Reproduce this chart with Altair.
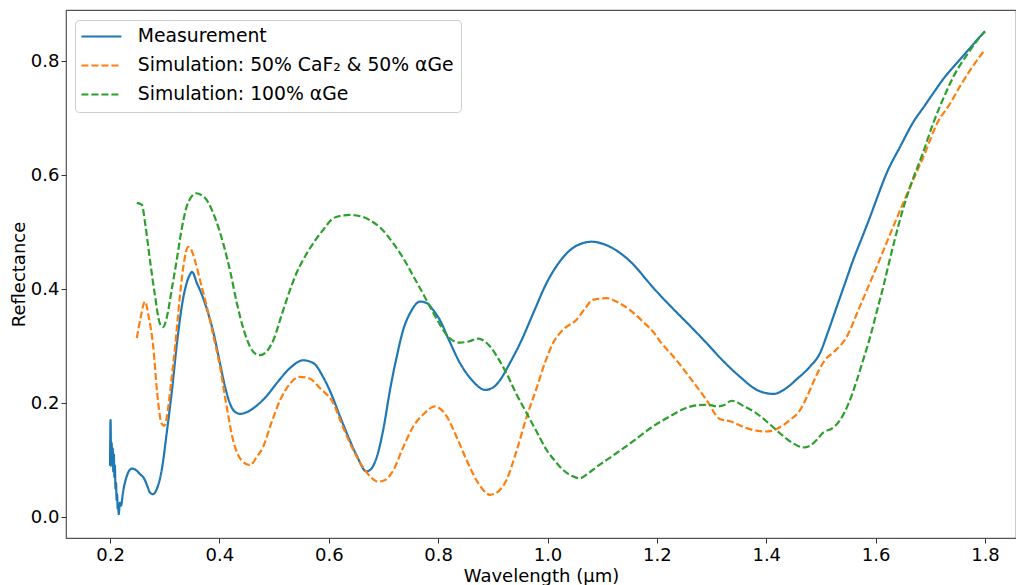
import altair as alt
import pandas as pd

series_names = ["Measurement", "Simulation: 50% CaF\u2082 & 50% \u03b1Ge", "Simulation: 100% \u03b1Ge"]
series_colors = ["#1f77b4", "#ff7f0e", "#2ca02c"]

meas_x = [0.200,0.201,0.202,0.203,0.204,0.205,0.206,0.207,0.208,0.209,0.210,0.211,0.212,0.213,0.214,0.215,0.216,0.218,0.220,0.224,0.230,0.240,0.248,0.255,0.262,0.268,0.273,0.279,0.285,0.295,0.304,0.313,0.323,0.334,0.340,0.346,0.350,0.359,0.368,0.377,0.390,0.401,0.410,0.419,0.428,0.438,0.450,0.469,0.487,0.505,0.530,0.553,0.572,0.590,0.605,0.620,0.633,0.650,0.669,0.678,0.688,0.700,0.712,0.724,0.736,0.750,0.767,0.780,0.791,0.803,0.820,0.840,0.862,0.886,0.900,0.913,0.930,0.950,0.975,0.998,1.020,1.041,1.060,1.081,1.105,1.133,1.160,1.181,1.205,1.229,1.260,1.291,1.320,1.352,1.385,1.413,1.435,1.456,1.480,1.498,1.513,1.529,1.544,1.559,1.575,1.590,1.605,1.620,1.645,1.669,1.690,1.705,1.725,1.748,1.770,1.796,1.800]
meas_y = [0.09,0.17,0.09,0.13,0.10,0.12,0.08,0.11,0.07,0.09,0.05,0.06,0.03,0.04,0.015,0.02,0.005,0.025,0.02,0.045,0.07,0.085,0.082,0.075,0.068,0.055,0.043,0.040,0.048,0.085,0.15,0.22,0.31,0.385,0.41,0.425,0.43,0.41,0.39,0.365,0.32,0.27,0.23,0.20,0.185,0.181,0.184,0.196,0.213,0.235,0.262,0.275,0.27,0.245,0.215,0.178,0.147,0.11,0.08,0.085,0.106,0.155,0.223,0.28,0.328,0.36,0.378,0.375,0.363,0.346,0.31,0.27,0.24,0.223,0.227,0.24,0.268,0.305,0.36,0.41,0.445,0.468,0.479,0.483,0.478,0.463,0.44,0.416,0.39,0.366,0.336,0.305,0.275,0.246,0.222,0.216,0.225,0.242,0.264,0.287,0.325,0.369,0.41,0.451,0.49,0.527,0.566,0.603,0.65,0.693,0.722,0.743,0.77,0.796,0.82,0.848,0.852]

caf_x = [0.249,0.256,0.264,0.271,0.279,0.286,0.294,0.299,0.304,0.311,0.319,0.327,0.334,0.343,0.349,0.355,0.366,0.377,0.389,0.401,0.413,0.425,0.440,0.456,0.468,0.480,0.495,0.511,0.530,0.547,0.565,0.584,0.608,0.625,0.645,0.668,0.690,0.703,0.718,0.735,0.754,0.775,0.794,0.806,0.816,0.834,0.852,0.873,0.895,0.910,0.925,0.943,0.962,0.980,0.995,1.010,1.030,1.053,1.068,1.083,1.108,1.130,1.151,1.172,1.193,1.210,1.229,1.260,1.291,1.315,1.334,1.364,1.385,1.401,1.420,1.443,1.462,1.474,1.490,1.507,1.523,1.547,1.571,1.602,1.632,1.663,1.690,1.712,1.736,1.754,1.775,1.796,1.800]
caf_y = [0.314,0.35,0.378,0.35,0.299,0.22,0.165,0.16,0.176,0.23,0.299,0.38,0.439,0.474,0.468,0.451,0.41,0.369,0.318,0.264,0.195,0.135,0.10,0.091,0.105,0.123,0.165,0.205,0.235,0.246,0.243,0.226,0.20,0.16,0.117,0.08,0.062,0.065,0.082,0.12,0.158,0.182,0.194,0.188,0.176,0.14,0.10,0.06,0.039,0.045,0.065,0.115,0.176,0.226,0.27,0.305,0.33,0.346,0.365,0.381,0.384,0.376,0.363,0.345,0.325,0.303,0.283,0.245,0.205,0.172,0.168,0.156,0.151,0.150,0.155,0.170,0.188,0.21,0.245,0.275,0.289,0.316,0.369,0.439,0.509,0.579,0.638,0.69,0.725,0.755,0.787,0.815,0.82]

ge_x = [0.249,0.258,0.265,0.273,0.282,0.291,0.297,0.304,0.313,0.322,0.331,0.340,0.349,0.358,0.367,0.377,0.392,0.407,0.420,0.432,0.444,0.456,0.465,0.474,0.486,0.499,0.514,0.529,0.541,0.553,0.570,0.590,0.608,0.625,0.639,0.657,0.675,0.697,0.718,0.737,0.755,0.770,0.785,0.800,0.816,0.828,0.840,0.856,0.873,0.884,0.895,0.910,0.925,0.943,0.962,0.980,0.998,1.014,1.029,1.045,1.059,1.075,1.090,1.120,1.151,1.190,1.230,1.250,1.273,1.295,1.309,1.322,1.337,1.360,1.382,1.405,1.425,1.448,1.468,1.480,1.492,1.505,1.520,1.535,1.550,1.565,1.578,1.590,1.602,1.614,1.626,1.638,1.650,1.663,1.687,1.705,1.725,1.742,1.770,1.796,1.800]
ge_y = [0.551,0.548,0.51,0.451,0.39,0.34,0.333,0.351,0.40,0.451,0.505,0.544,0.562,0.568,0.565,0.556,0.525,0.48,0.43,0.375,0.33,0.299,0.287,0.284,0.29,0.311,0.355,0.398,0.428,0.451,0.478,0.504,0.524,0.529,0.53,0.528,0.521,0.505,0.48,0.453,0.422,0.396,0.369,0.343,0.319,0.309,0.306,0.308,0.313,0.309,0.299,0.278,0.252,0.216,0.182,0.15,0.118,0.098,0.082,0.072,0.068,0.077,0.088,0.108,0.129,0.157,0.18,0.19,0.196,0.197,0.194,0.196,0.204,0.194,0.182,0.164,0.147,0.13,0.122,0.125,0.135,0.149,0.155,0.17,0.198,0.238,0.278,0.316,0.36,0.404,0.452,0.498,0.54,0.579,0.64,0.69,0.737,0.772,0.815,0.848,0.852]

x_ticks = [0.2, 0.4, 0.6, 0.8, 1.0, 1.2, 1.4, 1.6, 1.8]
y_ticks = [0.0, 0.2, 0.4, 0.6, 0.8]

rows = []
for i, (xs, ys) in enumerate([(meas_x, meas_y), (caf_x, caf_y), (ge_x, ge_y)]):
    for j, (a, b) in enumerate(zip(xs, ys)):
        rows.append({"wl": a, "R": b, "series": series_names[i], "order": j})
df = pd.DataFrame(rows)

FONT = "DejaVu Sans"

chart = alt.Chart(df).mark_line(strokeWidth=2.2, interpolate="monotone").encode(
    x=alt.X("wl:Q", scale=alt.Scale(domain=[0.1195, 1.8567], nice=False, zero=False),
            axis=alt.Axis(values=x_ticks, format=".1f", title="Wavelength (\u03bcm)", grid=False,
                          labelFontSize=18, titleFontSize=18, labelFont=FONT, titleFont=FONT,
                          titleFontWeight="normal", labelColor="black", titleColor="black",
                          tickColor="#333", tickSize=5, domain=False, labelPadding=3, titlePadding=3)),
    y=alt.Y("R:Q", scale=alt.Scale(domain=[-0.0368, 0.8895], nice=False, zero=False),
            axis=alt.Axis(values=y_ticks, format=".1f", title="Reflectance", grid=False,
                          labelFontSize=18, titleFontSize=18, labelFont=FONT, titleFont=FONT,
                          titleFontWeight="normal", labelColor="black", titleColor="black",
                          tickColor="#333", tickSize=5, domain=False, labelPadding=2, titlePadding=2)),
    color=alt.Color("series:N", scale=alt.Scale(domain=series_names, range=series_colors),
                    legend=alt.Legend(title=None, orient="none", legendX=9, legendY=10,
                                      symbolType="M-2,0H6", symbolSize=100, symbolStrokeWidth=2,
                                      labelFontSize=18.8, labelFont=FONT, labelColor="black",
                                      labelOffset=37, rowPadding=9, padding=7,
                                      fillColor="white", strokeColor="#cccccc", cornerRadius=4,
                                      labelLimit=500)),
    strokeDash=alt.StrokeDash("series:N", scale=alt.Scale(domain=series_names, range=[[1, 0], [7, 3], [7, 3]]),
                              legend=None),
    order="order:Q",
    detail="series:N",
).properties(
    width=950, height=528,
    padding={"left": 66, "top": 10, "right": 0, "bottom": 47},
    autosize=alt.AutoSizeParams(type="none"),
    background="white",
).configure_view(stroke="#555", strokeWidth=1.2)

chart.save("out.html", embed_options={"renderer": "svg", "actions": False})
